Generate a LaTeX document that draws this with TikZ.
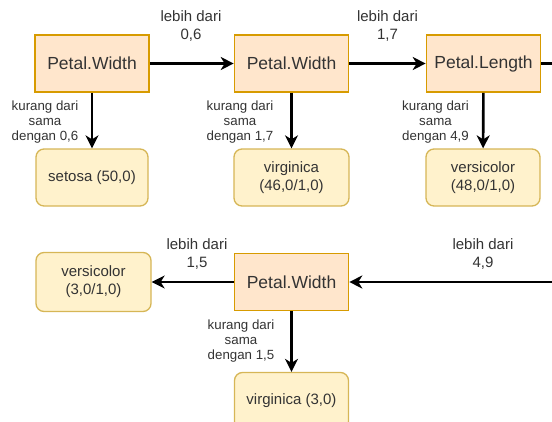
\documentclass[tikz,border=0pt]{standalone}
\usepackage{fontspec}
\setmainfont{Liberation Sans}
\usetikzlibrary{arrows.meta}
\definecolor{hfill}{HTML}{FFE6CC}
\definecolor{hdraw}{HTML}{D79B00}
\definecolor{lfill}{HTML}{FFF2CC}
\definecolor{ldraw}{HTML}{D6B656}
\definecolor{txt}{HTML}{333333}
\begin{document}
\begin{tikzpicture}[x=1pt,y=-1pt,
  head/.style={rectangle,draw=hdraw,fill=hfill,line width=1.6pt,minimum width=114pt,minimum height=57pt,inner sep=0pt,text=txt,font=\fontsize{17.5}{20}\selectfont},
  leaf/.style={rectangle,rounded corners=8pt,draw=ldraw,fill=lfill,line width=1.3pt,minimum width=113pt,minimum height=57pt,inner sep=0pt,align=center,text=txt,font=\fontsize{15}{18}\selectfont},
  elab/.style={align=center,text=txt,inner sep=0pt,font=\fontsize{15}{17.5}\selectfont},
  dlab/.style={align=center,text=txt,inner sep=0pt,font=\fontsize{13.3}{14.8}\selectfont},
  conn/.style={line width=2.6pt,-{Stealth[length=13pt,width=13pt,inset=4pt]}},
  plain/.style={line width=2.6pt}]
\useasboundingbox (0,0) rectangle (552,421);
% top row headers
\node[head] (h1) at (92,63.5) {Petal.Width};
\node[head] (h2) at (291.5,63.5) {Petal.Width};
\node[head] (h3) at (483.5,63.5) {Petal.Length};
% leaves top row
\node[leaf,minimum width=112pt] (l1) at (92,177.5) {setosa (50,0)};
\node[leaf,minimum width=115pt] (l2) at (291.5,177.5) {virginica\\(46,0/1,0)};
\node[leaf,minimum width=114pt] (l3) at (483,177.5) {versicolor\\(48,0/1,0)};
% bottom row
\node[head] (h4) at (291.5,282) {Petal.Width};
\node[leaf,minimum width=115pt,minimum height=59pt] (l4) at (93.5,282) {versicolor\\(3,0/1,0)};
\node[leaf,minimum width=114pt] (l5) at (291.5,401) {virginica (3,0)};
% off-picture ends
\coordinate (e1) at (556,63.5);
\coordinate (e2) at (556,282);
% connectors
\draw[conn] (h1) -- (h2);
\draw[conn] (h2) -- (h3);
\draw[plain] (h3) -- (e1);
\draw[conn] (h1) -- (l1);
\draw[conn] (h2) -- (l2);
\draw[conn] (h3) -- (l3);
\draw[conn] (e2) -- (h4);
\draw[conn] (h4) -- (l4);
\draw[conn] (h4) -- (l5);
% labels
\node[elab] (t1) at (191,26) {lebih dari\\0,6};
\node[elab] (t2) at (387.5,26) {lebih dari\\1,7};
\node[elab] (t3) at (197,254) {lebih dari\\1,5};
\node[elab] (t4) at (483,254) {lebih dari\\4,9};
\node[dlab] (d1) at (45,122) {kurang dari\\sama\\dengan 0,6};
\node[dlab] (d2) at (240,122) {kurang dari\\sama\\dengan 1,7};
\node[dlab] (d3) at (435.5,122) {kurang dari\\sama\\dengan 4,9};
\node[dlab] (d4) at (241,341) {kurang dari\\sama\\dengan 1,5};
\end{tikzpicture}
\end{document}
